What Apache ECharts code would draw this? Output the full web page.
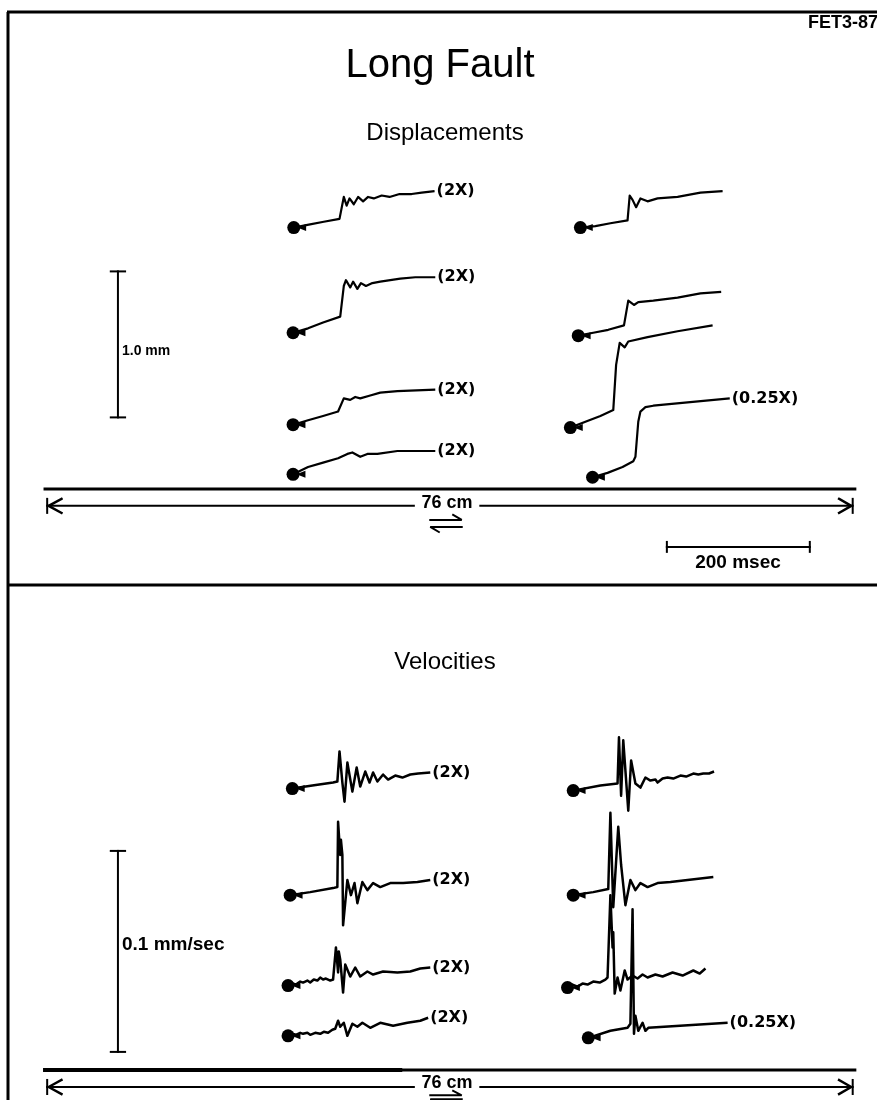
<!DOCTYPE html>
<html>
<head>
<meta charset="utf-8">
<title>Long Fault</title>
<script src="https://cdn.jsdelivr.net/npm/echarts@6.0.0/dist/echarts.min.js"></script>
<style>
  html, body { margin: 0; padding: 0; background: #fff; }
  #chart { width: 877px; height: 1100px; }
</style>
</head>
<body>
<div id="chart"></div>
<script>
// ---- displacement traces: [msec from trace start, mm (as plotted)] ----
var dispL1 = [[0,0],[21,0.02],[42,0.04],[64,0.06],[70,0.21],[74,0.15],[78,0.20],[84,0.16],[90,0.21],[97,0.18],[104,0.21],[112,0.20],[123,0.22],[134,0.21],[148,0.23],[165,0.23],[179,0.24],[197,0.25]];
var dispL2 = [[0,0],[21,0.03],[42,0.07],[66,0.11],[71,0.32],[74,0.36],[80,0.31],[84,0.35],[90,0.30],[95,0.34],[102,0.32],[111,0.34],[122,0.35],[136,0.36],[150,0.37],[171,0.38],[199,0.38]];
var dispL3 = [[0,0],[21,0.03],[42,0.06],[63,0.09],[71,0.18],[80,0.17],[87,0.19],[94,0.18],[108,0.20],[122,0.22],[146,0.23],[199,0.24]];
var dispL4 = [[0,0],[21,0.05],[42,0.08],[63,0.11],[76,0.14],[83,0.15],[94,0.12],[104,0.14],[118,0.14],[146,0.16],[199,0.16]];
var dispR1 = [[0,0],[21,0.01],[42,0.03],[66,0.05],[69,0.22],[73,0.19],[78,0.14],[84,0.20],[94,0.18],[108,0.20],[136,0.21],[168,0.24],[199,0.25]];
var dispR2 = [[0,0],[21,0.02],[42,0.04],[64,0.07],[70,0.24],[78,0.21],[84,0.23],[105,0.24],[139,0.26],[171,0.29],[200,0.30]];
var dispR3 = [[0,0],[21,0.04],[42,0.08],[60,0.12],[64,0.43],[69,0.58],[76,0.55],[81,0.59],[108,0.62],[150,0.66],[199,0.70]];
var dispR4 = [[0,0],[21,0.03],[42,0.07],[57,0.11],[60,0.14],[64,0.38],[67,0.45],[74,0.48],[85,0.49],[192,0.54]];

var dispTraces = [dispL1, dispL2, dispL3, dispL4, dispR1, dispR2, dispR3, dispR4];
var dispStartMs = [1, 0, 0, 0, 402, 399, 388, 419];
var dispBaseMm = [1.79, 1.07, 0.44, 0.10, 1.79, 1.05, 0.42, 0.08];
var dispGain = ['(2X)', '(2X)', '(2X)', '(2X)', '', '', '', '(0.25X)'];

// ---- velocity traces: [msec from trace start, µm/sec (as plotted)] ----
var velL1 = [[0,0],[28,1.5],[57,3],[63,3.5],[66,18.5],[70,3],[73,-6.5],[77,13],[84,-1.5],[90,10.5],[95,1],[102,8.5],[108,3],[113,8],[119,3.5],[127,7],[134,4.5],[144,6.5],[154,5.5],[165,7],[176,7.5],[193,8]];
var velL2 = [[0,0],[28,1.5],[60,3.5],[66,4],[67,36.5],[70,20],[71,27.5],[73,20],[74,-15],[80,7.5],[85,0],[90,6],[94,-4],[101,6.5],[108,2.5],[116,6],[126,4],[140,6],[158,6],[178,6.5],[196,7.5]];
var velL3 = [[0,0],[6,1],[11,0.5],[17,2],[21,1.5],[27,2.5],[31,1.5],[36,3],[41,2.5],[45,4],[49,3],[53,3.5],[59,2.5],[63,3],[67,19],[70,6.5],[71,17],[73,13],[77,-3.5],[80,10.5],[87,4.5],[94,9],[101,4.5],[111,7],[119,5.5],[133,7],[153,6.5],[171,7],[185,8.5],[199,9]];
var velL4 = [[0,0],[6,1],[11,0.5],[17,1.5],[21,1],[27,1.5],[31,0.5],[38,1.5],[45,1],[50,2],[56,1.5],[62,3],[66,3.5],[70,7.5],[73,4.5],[78,6.5],[83,0],[90,6],[97,4.5],[104,6.5],[115,4],[129,6.5],[147,5],[167,6.5],[185,7.5],[196,9]];
var velR1 = [[0,0],[38,2.5],[62,3.5],[64,26.5],[67,-2.5],[70,25],[77,-10],[81,15],[87,3.5],[94,1.5],[101,6.5],[108,5],[115,5.5],[118,4],[125,6],[132,6.5],[140,6],[150,7.5],[158,7],[168,8.5],[175,8],[182,8.5],[190,8.5],[197,9.5]];
var velR2 = [[0,0],[28,1.5],[49,3],[52,41],[56,-6],[63,34],[67,15],[73,-5],[80,7.5],[87,2.5],[94,6],[104,4],[118,6],[136,6.5],[160,7.5],[196,9]];
var velR3 = [[0,0],[7,1.5],[14,0.5],[21,2],[28,1.5],[36,3],[45,2.5],[53,4],[56,5],[60,46],[63,20],[64,27.5],[66,-3],[70,5],[74,-1.5],[80,8.5],[84,4],[91,6],[98,4.5],[105,6.5],[112,5],[123,6.5],[133,5.5],[147,7.5],[161,6],[176,8.5],[185,7],[193,9.5]];
var velR4 = [[0,0],[31,3.5],[55,5],[59,7],[62,64],[64,2],[66,11],[70,3.5],[76,7.5],[80,3.5],[84,5],[195,7.5]];

var velTraces = [velL1, velL2, velL3, velL4, velR1, velR2, velR3, velR4];
var velStartMs = [-1, -4, -7, -7, 392, 392, 384, 413];
var velBase = [140, 87, 42, 17, 139, 87, 41, 16];
var velGain = ['(2X)', '(2X)', '(2X)', '(2X)', '', '', '', '(0.25X)'];

var chart = echarts.init(document.getElementById('chart'));
var series = [];

// trace line with its station dot and little arrow
function addTrace(pts, t0, base, gain, gi, w) {
	series.push({
		type: 'line', xAxisIndex: gi, yAxisIndex: gi,
		data: pts.map(function(p) { return [t0 + p[0], base + p[1]]; }),
		symbol: 'none', silent: true, animation: false,
		lineStyle: { color: '#000', width: w, join: 'round' },
		endLabel: {
			show: !!gain, formatter: gain, distance: 2,
			color: '#000', fontFamily: 'DejaVu Sans', fontWeight: 'bold', fontSize: 16
		}
	});
	series.push({
		type: 'scatter', xAxisIndex: gi, yAxisIndex: gi, silent: true, animation: false,
		data: [[t0, base]], symbol: 'circle', symbolSize: 13,
		itemStyle: { color: '#000', opacity: 1 }
	});
	series.push({
		type: 'scatter', xAxisIndex: gi, yAxisIndex: gi, silent: true, animation: false,
		data: [[t0 + 11, base]], symbol: 'triangle', symbolRotate: 90, symbolSize: [7, 9],
		itemStyle: { color: '#000', opacity: 1 }
	});
}

// plain drawn line (scale bars, arrows, fault)
function deco(gi, pts, w) {
	series.push({
		type: 'line', xAxisIndex: gi, yAxisIndex: gi, data: pts,
		symbol: 'none', silent: true, animation: false,
		lineStyle: { color: '#000', width: w || 2, cap: 'square' }
	});
}

dispTraces.forEach(function(t, i) { addTrace(t, dispStartMs[i], dispBaseMm[i], dispGain[i], 0, 2.2); });
velTraces.forEach(function(t, i) { addTrace(t, velStartMs[i], velBase[i], velGain[i], 1, 2.5); });

// --- top panel extras (msec / mm) ---
deco(0, [[-245, 0.49], [-245, 1.49]]);
deco(0, [[-255, 0.49], [-235, 0.49]]);
deco(0, [[-255, 1.49], [-235, 1.49]]);
deco(0, [[-347, 0], [786, 0]], 3);
deco(0, [[-344, -0.116], [169, -0.116]]);
deco(0, [[262, -0.116], [783, -0.116]]);
deco(0, [[-324, -0.068], [-342, -0.116], [-324, -0.164]], 2.5);
deco(0, [[-344, -0.068], [-344, -0.164]]);
deco(0, [[764, -0.068], [781, -0.116], [764, -0.164]], 2.5);
deco(0, [[783, -0.068], [783, -0.164]]);
deco(0, [[192, -0.212], [236, -0.212], [224, -0.178]]);
deco(0, [[236, -0.260], [192, -0.260], [204, -0.295]]);
deco(0, [[523, -0.397], [723, -0.397]]);
deco(0, [[523, -0.363], [523, -0.431]]);
deco(0, [[723, -0.363], [723, -0.431]]);

// --- bottom panel extras (msec / µm/sec) ---
deco(1, [[-245, 9], [-245, 109]]);
deco(1, [[-255, 9], [-235, 9]]);
deco(1, [[-255, 109], [-235, 109]]);
deco(1, [[-347, 0], [150, 0]], 4);
deco(1, [[150, 0], [786, 0]], 3);
deco(1, [[-344, -8.46], [169, -8.46]]);
deco(1, [[262, -8.46], [783, -8.46]]);
deco(1, [[-324, -4.96], [-342, -8.46], [-324, -11.96]], 2.5);
deco(1, [[-344, -4.96], [-344, -11.96]]);
deco(1, [[764, -4.96], [781, -8.46], [764, -11.96]], 2.5);
deco(1, [[783, -4.96], [783, -11.96]]);
deco(1, [[192, -12.6], [236, -12.6], [224, -10.4]]);
deco(1, [[236, -14.6], [192, -14.6], [204, -16.6]]);

function txt(x, y, s, font, align) {
	return { type: 'text', x: x, y: y, silent: true,
		style: { text: s, font: font, fill: '#000', align: align || 'center', verticalAlign: 'middle' } };
}

var option = {
	backgroundColor: '#fff',
	animation: false,
	grid: [
		{ left: 0, right: 0, top: 0, height: 585 },
		{ left: 0, right: 0, top: 585, height: 515 }
	],
	xAxis: [
		{ type: 'value', gridIndex: 0, min: -410, max: 817, show: false },
		{ type: 'value', gridIndex: 1, min: -410, max: 817, show: false }
	],
	yAxis: [
		{ type: 'value', gridIndex: 0, min: -0.658, max: 3.349, show: false },
		{ type: 'value', gridIndex: 1, min: -14.93, max: 241.3, show: false }
	],
	series: series,
	graphic: [
		{ type: 'line', silent: true, shape: { x1: 8, y1: 12, x2: 8, y2: 1100 }, style: { stroke: '#000', lineWidth: 3 } },
		{ type: 'line', silent: true, shape: { x1: 7, y1: 12, x2: 877, y2: 12 }, style: { stroke: '#000', lineWidth: 3 } },
		{ type: 'line', silent: true, shape: { x1: 7, y1: 585, x2: 877, y2: 585 }, style: { stroke: '#000', lineWidth: 3 } },
		txt(808, 23, 'FET3-87', 'bold 18px "Liberation Sans"', 'left'),
		txt(440, 66, 'Long Fault', '40px "Liberation Sans"'),
		txt(445, 133, 'Displacements', '24px "Liberation Sans"'),
		txt(445, 662, 'Velocities', '24px "Liberation Sans"'),
		txt(122, 351, '1.0 mm', 'bold 14px "Liberation Sans"', 'left'),
		txt(122, 945, '0.1 mm/sec', 'bold 19px "Liberation Sans"', 'left'),
		txt(447, 503, '76 cm', 'bold 18px "Liberation Sans"'),
		txt(447, 1083, '76 cm', 'bold 18px "Liberation Sans"'),
		txt(738, 563, '200 msec', 'bold 19px "Liberation Sans"')
	]
};
chart.setOption(option);
</script>
</body>
</html>
